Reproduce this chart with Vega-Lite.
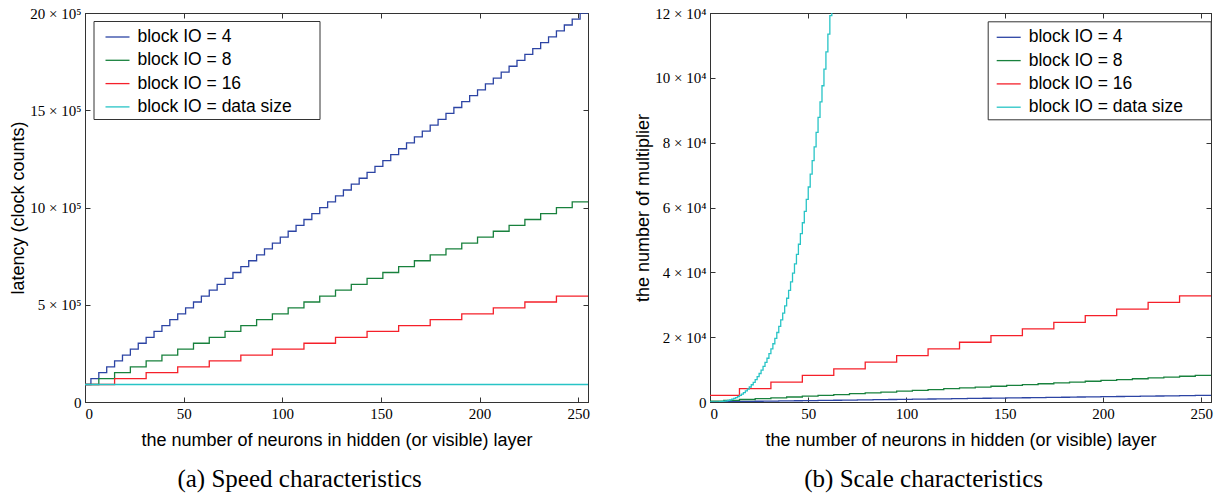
{
  "$schema": "https://vega.github.io/schema/vega-lite/v6.json",
  "background": "white",
  "padding": {"left": 9, "top": 5, "right": 2, "bottom": 1},
  "config": {
    "view": {"stroke": "#333", "strokeWidth": 1},
    "axis": {"domainColor": "#333", "tickColor": "#333", "tickSize": -5, "labelPadding": 9, "labelFont": "Liberation Serif", "labelFontSize": 15, "labelColor": "black", "titleFont": "Liberation Sans", "titleFontSize": 18, "titleFontWeight": "normal", "titleColor": "black", "grid": false, "domainWidth": 1, "tickWidth": 1},
    "legend": {"orient": "none", "title": null, "symbolType": "stroke", "symbolSize": 576, "symbolStrokeWidth": 1.3, "labelFont": "Liberation Sans", "labelFontSize": 17.5, "labelColor": "black", "labelOffset": 7, "labelLimit": 400, "padding": 3, "rowPadding": 1.3, "strokeColor": "#333", "fillColor": "white"}
  },
  "datasets": {
    "speed": [
      {"x":0,"y":90000,"s":"block IO = 4"},{"x":3,"y":120300,"s":"block IO = 4"},{"x":7,"y":150600,"s":"block IO = 4"},{"x":11,"y":180900,"s":"block IO = 4"},{"x":15,"y":211200,"s":"block IO = 4"},{"x":19,"y":241500,"s":"block IO = 4"},{"x":23,"y":271800,"s":"block IO = 4"},{"x":27,"y":302100,"s":"block IO = 4"},{"x":31,"y":332400,"s":"block IO = 4"},{"x":35,"y":362700,"s":"block IO = 4"},{"x":39,"y":393000,"s":"block IO = 4"},{"x":43,"y":423300,"s":"block IO = 4"},{"x":47,"y":453600,"s":"block IO = 4"},{"x":51,"y":483900,"s":"block IO = 4"},{"x":55,"y":514200,"s":"block IO = 4"},{"x":59,"y":544500,"s":"block IO = 4"},{"x":63,"y":574800,"s":"block IO = 4"},{"x":67,"y":605100,"s":"block IO = 4"},{"x":71,"y":635400,"s":"block IO = 4"},{"x":75,"y":665700,"s":"block IO = 4"},{"x":79,"y":696000,"s":"block IO = 4"},{"x":83,"y":726300,"s":"block IO = 4"},{"x":87,"y":756600,"s":"block IO = 4"},{"x":91,"y":786900,"s":"block IO = 4"},{"x":95,"y":817200,"s":"block IO = 4"},{"x":99,"y":847500,"s":"block IO = 4"},{"x":103,"y":877800,"s":"block IO = 4"},{"x":107,"y":908100,"s":"block IO = 4"},{"x":111,"y":938400,"s":"block IO = 4"},{"x":115,"y":968700,"s":"block IO = 4"},{"x":119,"y":999000,"s":"block IO = 4"},{"x":123,"y":1029300,"s":"block IO = 4"},{"x":127,"y":1059600,"s":"block IO = 4"},{"x":131,"y":1089900,"s":"block IO = 4"},{"x":135,"y":1120200,"s":"block IO = 4"},{"x":139,"y":1150500,"s":"block IO = 4"},{"x":143,"y":1180800,"s":"block IO = 4"},{"x":147,"y":1211100,"s":"block IO = 4"},{"x":151,"y":1241400,"s":"block IO = 4"},{"x":155,"y":1271700,"s":"block IO = 4"},{"x":159,"y":1302000,"s":"block IO = 4"},{"x":163,"y":1332300,"s":"block IO = 4"},{"x":167,"y":1362600,"s":"block IO = 4"},{"x":171,"y":1392900,"s":"block IO = 4"},{"x":175,"y":1423200,"s":"block IO = 4"},{"x":179,"y":1453500,"s":"block IO = 4"},{"x":183,"y":1483800,"s":"block IO = 4"},{"x":187,"y":1514100,"s":"block IO = 4"},{"x":191,"y":1544400,"s":"block IO = 4"},{"x":195,"y":1574700,"s":"block IO = 4"},{"x":199,"y":1605000,"s":"block IO = 4"},{"x":203,"y":1635300,"s":"block IO = 4"},{"x":207,"y":1665600,"s":"block IO = 4"},{"x":211,"y":1695900,"s":"block IO = 4"},{"x":215,"y":1726200,"s":"block IO = 4"},{"x":219,"y":1756500,"s":"block IO = 4"},{"x":223,"y":1786800,"s":"block IO = 4"},{"x":227,"y":1817100,"s":"block IO = 4"},{"x":231,"y":1847400,"s":"block IO = 4"},{"x":235,"y":1877700,"s":"block IO = 4"},{"x":239,"y":1908000,"s":"block IO = 4"},{"x":243,"y":1938300,"s":"block IO = 4"},{"x":247,"y":1968600,"s":"block IO = 4"},{"x":251,"y":1998900,"s":"block IO = 4"},{"x":255,"y":1998900,"s":"block IO = 4"},
      {"x":0,"y":90000,"s":"block IO = 8"},{"x":7,"y":120300,"s":"block IO = 8"},{"x":15,"y":150600,"s":"block IO = 8"},{"x":23,"y":180900,"s":"block IO = 8"},{"x":31,"y":211200,"s":"block IO = 8"},{"x":39,"y":241500,"s":"block IO = 8"},{"x":47,"y":271800,"s":"block IO = 8"},{"x":55,"y":302100,"s":"block IO = 8"},{"x":63,"y":332400,"s":"block IO = 8"},{"x":71,"y":362700,"s":"block IO = 8"},{"x":79,"y":393000,"s":"block IO = 8"},{"x":87,"y":423300,"s":"block IO = 8"},{"x":95,"y":453600,"s":"block IO = 8"},{"x":103,"y":483900,"s":"block IO = 8"},{"x":111,"y":514200,"s":"block IO = 8"},{"x":119,"y":544500,"s":"block IO = 8"},{"x":127,"y":574800,"s":"block IO = 8"},{"x":135,"y":605100,"s":"block IO = 8"},{"x":143,"y":635400,"s":"block IO = 8"},{"x":151,"y":665700,"s":"block IO = 8"},{"x":159,"y":696000,"s":"block IO = 8"},{"x":167,"y":726300,"s":"block IO = 8"},{"x":175,"y":756600,"s":"block IO = 8"},{"x":183,"y":786900,"s":"block IO = 8"},{"x":191,"y":817200,"s":"block IO = 8"},{"x":199,"y":847500,"s":"block IO = 8"},{"x":207,"y":877800,"s":"block IO = 8"},{"x":215,"y":908100,"s":"block IO = 8"},{"x":223,"y":938400,"s":"block IO = 8"},{"x":231,"y":968700,"s":"block IO = 8"},{"x":239,"y":999000,"s":"block IO = 8"},{"x":247,"y":1029300,"s":"block IO = 8"},{"x":255,"y":1029300,"s":"block IO = 8"},
      {"x":0,"y":90000,"s":"block IO = 16"},{"x":15,"y":120300,"s":"block IO = 16"},{"x":31,"y":150600,"s":"block IO = 16"},{"x":47,"y":180900,"s":"block IO = 16"},{"x":63,"y":211200,"s":"block IO = 16"},{"x":79,"y":241500,"s":"block IO = 16"},{"x":95,"y":271800,"s":"block IO = 16"},{"x":111,"y":302100,"s":"block IO = 16"},{"x":127,"y":332400,"s":"block IO = 16"},{"x":143,"y":362700,"s":"block IO = 16"},{"x":159,"y":393000,"s":"block IO = 16"},{"x":175,"y":423300,"s":"block IO = 16"},{"x":191,"y":453600,"s":"block IO = 16"},{"x":207,"y":483900,"s":"block IO = 16"},{"x":223,"y":514200,"s":"block IO = 16"},{"x":239,"y":544500,"s":"block IO = 16"},{"x":255,"y":544500,"s":"block IO = 16"},
      {"x":0,"y":90000,"s":"block IO = data size"},{"x":255,"y":90000,"s":"block IO = data size"}
    ],
    "scale": [
      {"x":0,"y":32,"s":"block IO = 4"},{"x":3,"y":64,"s":"block IO = 4"},{"x":7,"y":96,"s":"block IO = 4"},{"x":11,"y":128,"s":"block IO = 4"},{"x":15,"y":160,"s":"block IO = 4"},{"x":19,"y":192,"s":"block IO = 4"},{"x":23,"y":224,"s":"block IO = 4"},{"x":27,"y":256,"s":"block IO = 4"},{"x":31,"y":288,"s":"block IO = 4"},{"x":35,"y":320,"s":"block IO = 4"},{"x":39,"y":352,"s":"block IO = 4"},{"x":43,"y":384,"s":"block IO = 4"},{"x":47,"y":416,"s":"block IO = 4"},{"x":51,"y":448,"s":"block IO = 4"},{"x":55,"y":480,"s":"block IO = 4"},{"x":59,"y":512,"s":"block IO = 4"},{"x":63,"y":544,"s":"block IO = 4"},{"x":67,"y":576,"s":"block IO = 4"},{"x":71,"y":608,"s":"block IO = 4"},{"x":75,"y":640,"s":"block IO = 4"},{"x":79,"y":672,"s":"block IO = 4"},{"x":83,"y":704,"s":"block IO = 4"},{"x":87,"y":736,"s":"block IO = 4"},{"x":91,"y":768,"s":"block IO = 4"},{"x":95,"y":800,"s":"block IO = 4"},{"x":99,"y":832,"s":"block IO = 4"},{"x":103,"y":864,"s":"block IO = 4"},{"x":107,"y":896,"s":"block IO = 4"},{"x":111,"y":928,"s":"block IO = 4"},{"x":115,"y":960,"s":"block IO = 4"},{"x":119,"y":992,"s":"block IO = 4"},{"x":123,"y":1024,"s":"block IO = 4"},{"x":127,"y":1056,"s":"block IO = 4"},{"x":131,"y":1088,"s":"block IO = 4"},{"x":135,"y":1120,"s":"block IO = 4"},{"x":139,"y":1152,"s":"block IO = 4"},{"x":143,"y":1184,"s":"block IO = 4"},{"x":147,"y":1216,"s":"block IO = 4"},{"x":151,"y":1248,"s":"block IO = 4"},{"x":155,"y":1280,"s":"block IO = 4"},{"x":159,"y":1312,"s":"block IO = 4"},{"x":163,"y":1344,"s":"block IO = 4"},{"x":167,"y":1376,"s":"block IO = 4"},{"x":171,"y":1408,"s":"block IO = 4"},{"x":175,"y":1440,"s":"block IO = 4"},{"x":179,"y":1472,"s":"block IO = 4"},{"x":183,"y":1504,"s":"block IO = 4"},{"x":187,"y":1536,"s":"block IO = 4"},{"x":191,"y":1568,"s":"block IO = 4"},{"x":195,"y":1600,"s":"block IO = 4"},{"x":199,"y":1632,"s":"block IO = 4"},{"x":203,"y":1664,"s":"block IO = 4"},{"x":207,"y":1696,"s":"block IO = 4"},{"x":211,"y":1728,"s":"block IO = 4"},{"x":215,"y":1760,"s":"block IO = 4"},{"x":219,"y":1792,"s":"block IO = 4"},{"x":223,"y":1824,"s":"block IO = 4"},{"x":227,"y":1856,"s":"block IO = 4"},{"x":231,"y":1888,"s":"block IO = 4"},{"x":235,"y":1920,"s":"block IO = 4"},{"x":239,"y":1952,"s":"block IO = 4"},{"x":243,"y":1984,"s":"block IO = 4"},{"x":247,"y":2016,"s":"block IO = 4"},{"x":251,"y":2048,"s":"block IO = 4"},{"x":255,"y":2048,"s":"block IO = 4"},
      {"x":0,"y":256,"s":"block IO = 8"},{"x":7,"y":512,"s":"block IO = 8"},{"x":15,"y":768,"s":"block IO = 8"},{"x":23,"y":1024,"s":"block IO = 8"},{"x":31,"y":1280,"s":"block IO = 8"},{"x":39,"y":1536,"s":"block IO = 8"},{"x":47,"y":1792,"s":"block IO = 8"},{"x":55,"y":2048,"s":"block IO = 8"},{"x":63,"y":2304,"s":"block IO = 8"},{"x":71,"y":2560,"s":"block IO = 8"},{"x":79,"y":2816,"s":"block IO = 8"},{"x":87,"y":3072,"s":"block IO = 8"},{"x":95,"y":3328,"s":"block IO = 8"},{"x":103,"y":3584,"s":"block IO = 8"},{"x":111,"y":3840,"s":"block IO = 8"},{"x":119,"y":4096,"s":"block IO = 8"},{"x":127,"y":4352,"s":"block IO = 8"},{"x":135,"y":4608,"s":"block IO = 8"},{"x":143,"y":4864,"s":"block IO = 8"},{"x":151,"y":5120,"s":"block IO = 8"},{"x":159,"y":5376,"s":"block IO = 8"},{"x":167,"y":5632,"s":"block IO = 8"},{"x":175,"y":5888,"s":"block IO = 8"},{"x":183,"y":6144,"s":"block IO = 8"},{"x":191,"y":6400,"s":"block IO = 8"},{"x":199,"y":6656,"s":"block IO = 8"},{"x":207,"y":6912,"s":"block IO = 8"},{"x":215,"y":7168,"s":"block IO = 8"},{"x":223,"y":7424,"s":"block IO = 8"},{"x":231,"y":7680,"s":"block IO = 8"},{"x":239,"y":7936,"s":"block IO = 8"},{"x":247,"y":8192,"s":"block IO = 8"},{"x":255,"y":8192,"s":"block IO = 8"},
      {"x":0,"y":2048,"s":"block IO = 16"},{"x":15,"y":4096,"s":"block IO = 16"},{"x":31,"y":6144,"s":"block IO = 16"},{"x":47,"y":8192,"s":"block IO = 16"},{"x":63,"y":10240,"s":"block IO = 16"},{"x":79,"y":12288,"s":"block IO = 16"},{"x":95,"y":14336,"s":"block IO = 16"},{"x":111,"y":16384,"s":"block IO = 16"},{"x":127,"y":18432,"s":"block IO = 16"},{"x":143,"y":20480,"s":"block IO = 16"},{"x":159,"y":22528,"s":"block IO = 16"},{"x":175,"y":24576,"s":"block IO = 16"},{"x":191,"y":26624,"s":"block IO = 16"},{"x":207,"y":28672,"s":"block IO = 16"},{"x":223,"y":30720,"s":"block IO = 16"},{"x":239,"y":32768,"s":"block IO = 16"},{"x":255,"y":32768,"s":"block IO = 16"},
      {"x":0,"y":0.5,"s":"block IO = data size"},{"x":1,"y":4,"s":"block IO = data size"},{"x":2,"y":13.5,"s":"block IO = data size"},{"x":3,"y":32,"s":"block IO = data size"},{"x":4,"y":62.5,"s":"block IO = data size"},{"x":5,"y":108,"s":"block IO = data size"},{"x":6,"y":171.5,"s":"block IO = data size"},{"x":7,"y":256,"s":"block IO = data size"},{"x":8,"y":364.5,"s":"block IO = data size"},{"x":9,"y":500,"s":"block IO = data size"},{"x":10,"y":665.5,"s":"block IO = data size"},{"x":11,"y":864,"s":"block IO = data size"},{"x":12,"y":1098.5,"s":"block IO = data size"},{"x":13,"y":1372,"s":"block IO = data size"},{"x":14,"y":1687.5,"s":"block IO = data size"},{"x":15,"y":2048,"s":"block IO = data size"},{"x":16,"y":2456.5,"s":"block IO = data size"},{"x":17,"y":2916,"s":"block IO = data size"},{"x":18,"y":3429.5,"s":"block IO = data size"},{"x":19,"y":4000,"s":"block IO = data size"},{"x":20,"y":4630.5,"s":"block IO = data size"},{"x":21,"y":5324,"s":"block IO = data size"},{"x":22,"y":6083.5,"s":"block IO = data size"},{"x":23,"y":6912,"s":"block IO = data size"},{"x":24,"y":7812.5,"s":"block IO = data size"},{"x":25,"y":8788,"s":"block IO = data size"},{"x":26,"y":9841.5,"s":"block IO = data size"},{"x":27,"y":10976,"s":"block IO = data size"},{"x":28,"y":12194.5,"s":"block IO = data size"},{"x":29,"y":13500,"s":"block IO = data size"},{"x":30,"y":14895.5,"s":"block IO = data size"},{"x":31,"y":16384,"s":"block IO = data size"},{"x":32,"y":17968.5,"s":"block IO = data size"},{"x":33,"y":19652,"s":"block IO = data size"},{"x":34,"y":21437.5,"s":"block IO = data size"},{"x":35,"y":23328,"s":"block IO = data size"},{"x":36,"y":25326.5,"s":"block IO = data size"},{"x":37,"y":27436,"s":"block IO = data size"},{"x":38,"y":29659.5,"s":"block IO = data size"},{"x":39,"y":32000,"s":"block IO = data size"},{"x":40,"y":34460.5,"s":"block IO = data size"},{"x":41,"y":37044,"s":"block IO = data size"},{"x":42,"y":39753.5,"s":"block IO = data size"},{"x":43,"y":42592,"s":"block IO = data size"},{"x":44,"y":45562.5,"s":"block IO = data size"},{"x":45,"y":48668,"s":"block IO = data size"},{"x":46,"y":51911.5,"s":"block IO = data size"},{"x":47,"y":55296,"s":"block IO = data size"},{"x":48,"y":58824.5,"s":"block IO = data size"},{"x":49,"y":62500,"s":"block IO = data size"},{"x":50,"y":66325.5,"s":"block IO = data size"},{"x":51,"y":70304,"s":"block IO = data size"},{"x":52,"y":74438.5,"s":"block IO = data size"},{"x":53,"y":78732,"s":"block IO = data size"},{"x":54,"y":83187.5,"s":"block IO = data size"},{"x":55,"y":87808,"s":"block IO = data size"},{"x":56,"y":92596.5,"s":"block IO = data size"},{"x":57,"y":97556,"s":"block IO = data size"},{"x":58,"y":102689.5,"s":"block IO = data size"},{"x":59,"y":108000,"s":"block IO = data size"},{"x":60,"y":113490.5,"s":"block IO = data size"},{"x":61,"y":119164,"s":"block IO = data size"},{"x":62,"y":125023.5,"s":"block IO = data size"}
    ]
  },
  "spacing": 44,
  "resolve": {"scale": {"x": "independent", "y": "independent", "color": "independent"}, "legend": {"color": "independent"}},
  "hconcat": [
    {
      "width": 503, "height": 389,
      "title": {"text": "(a) Speed characteristics", "orient": "bottom", "anchor": "middle", "frame": "bounds", "font": "Liberation Serif", "fontSize": 25, "fontWeight": "normal", "color": "black", "offset": 18},
      "data": {"name": "speed"},
      "resolve": {"axis": {"x": "independent", "y": "independent"}},
      "layer": [
        {
          "mark": {"type": "line", "interpolate": "step-after", "strokeWidth": 1.3, "clip": true},
          "encoding": {
            "x": {"field": "x", "type": "quantitative", "scale": {"domain": [0, 255], "nice": false, "zero": false}, "axis": {"orient": "bottom", "values": [0, 50, 100, 150, 200, 250], "title": "the number of neurons in hidden (or visible) layer", "titlePadding": 10}},
            "y": {"field": "y", "type": "quantitative", "scale": {"domain": [0, 2000000], "nice": false}, "axis": {"orient": "left", "values": [0, 500000, 1000000, 1500000, 2000000], "labelExpr": "datum.value == 0 ? '0' : (datum.value / 100000) + ' × 10⁵'", "title": "latency (clock counts)", "titlePadding": 2}},
            "color": {"field": "s", "type": "nominal", "scale": {"domain": ["block IO = 4", "block IO = 8", "block IO = 16", "block IO = data size"], "range": ["#2c44a4", "#18813d", "#f5202a", "#28c4c6"]}, "legend": {"legendX": 8.5, "legendY": 8, "symbolOffset": 8, "labelExpr": "datum.label + '\u00a0\u00a0\u00a0\u00a0\u00a0\u200b'"}}
          }
        },
        {
          "mark": {"type": "point", "opacity": 0, "clip": true},
          "encoding": {
            "x": {"field": "x", "type": "quantitative", "axis": {"orient": "top", "values": [0, 50, 100, 150, 200, 250], "labels": false, "title": null}},
            "y": {"field": "y", "type": "quantitative", "axis": {"orient": "right", "values": [0, 500000, 1000000, 1500000, 2000000], "labels": false, "title": null}}
          }
        }
      ]
    },
    {
      "width": 501, "height": 389,
      "title": {"text": "(b) Scale characteristics", "orient": "bottom", "anchor": "middle", "frame": "bounds", "font": "Liberation Serif", "fontSize": 25, "fontWeight": "normal", "color": "black", "offset": 18},
      "data": {"name": "scale"},
      "resolve": {"axis": {"x": "independent", "y": "independent"}},
      "layer": [
        {
          "mark": {"type": "line", "interpolate": "step-after", "strokeWidth": 1.3, "clip": true},
          "encoding": {
            "x": {"field": "x", "type": "quantitative", "scale": {"domain": [0, 255], "nice": false, "zero": false}, "axis": {"orient": "bottom", "values": [0, 50, 100, 150, 200, 250], "title": "the number of neurons in hidden (or visible) layer", "titlePadding": 10}},
            "y": {"field": "y", "type": "quantitative", "scale": {"domain": [0, 120000], "nice": false}, "axis": {"orient": "left", "values": [0, 20000, 40000, 60000, 80000, 100000, 120000], "labelExpr": "datum.value == 0 ? '0' : (datum.value / 10000) + ' × 10⁴'", "title": "the number of multiplier", "titlePadding": 2}},
            "color": {"field": "s", "type": "nominal", "scale": {"domain": ["block IO = 4", "block IO = 8", "block IO = 16", "block IO = data size"], "range": ["#2c44a4", "#18813d", "#f5202a", "#28c4c6"]}, "legend": {"legendX": 277.7, "legendY": 8.3, "symbolOffset": 5, "labelExpr": "datum.label + '\u00a0\u00a0\u00a0\u00a0\u00a0\u200b'"}}
          }
        },
        {
          "mark": {"type": "point", "opacity": 0, "clip": true},
          "encoding": {
            "x": {"field": "x", "type": "quantitative", "axis": {"orient": "top", "values": [0, 50, 100, 150, 200, 250], "labels": false, "title": null}},
            "y": {"field": "y", "type": "quantitative", "axis": {"orient": "right", "values": [0, 20000, 40000, 60000, 80000, 100000, 120000], "labels": false, "title": null}}
          }
        }
      ]
    }
  ]
}
